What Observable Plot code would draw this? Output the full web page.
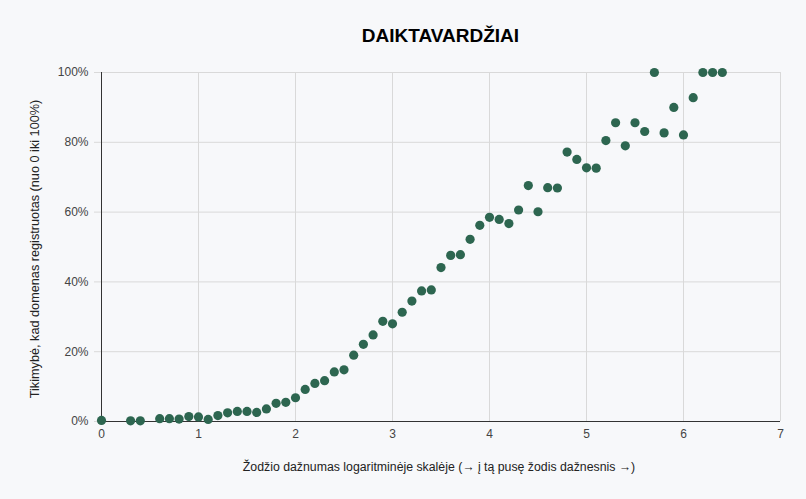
<!DOCTYPE html>
<html>
<head>
<meta charset="utf-8">
<script src="https://cdn.jsdelivr.net/npm/d3@7"></script>
<script src="https://cdn.jsdelivr.net/npm/@observablehq/plot@0.6"></script>
<style>
  html, body { margin: 0; padding: 0; background: #f7f8fa; }
  #wrap { position: relative; width: 806px; height: 499px; overflow: hidden; background: #f7f8fa; }
  #title { position: relative; height: 50px; }
  #title span { position: absolute; left: 101px; right: 26px; top: 25px; line-height: 22px; text-align: center;
    font-family: "Liberation Sans", Arial, sans-serif; font-weight: bold; font-size: 19px; color: #000; }
  #chart svg { display: block; }
</style>
</head>
<body>
<div id="wrap">
  <div id="title"><span>DAIKTAVARDŽIAI</span></div>
  <div id="chart"></div>
</div>
<script>
const titleText = "DAIKTAVARDŽIAI";
const xLabel = "Žodžio dažnumas logaritminėje skalėje (→ į tą pusę žodis dažnesnis →)";
const yLabel = "Tikimybė, kad domenas registruotas (nuo 0 iki 100%)";

const logFreq = [0, 0.3, 0.4, 0.6, 0.7, 0.8, 0.9, 1.0, 1.1, 1.2, 1.3, 1.4, 1.5, 1.6, 1.7, 1.8, 1.9,
  2.0, 2.1, 2.2, 2.3, 2.4, 2.5, 2.6, 2.7, 2.8, 2.9, 3.0, 3.1, 3.2, 3.3, 3.4, 3.5, 3.6, 3.7, 3.8, 3.9,
  4.0, 4.1, 4.2, 4.3, 4.4, 4.5, 4.6, 4.7, 4.8, 4.9, 5.0, 5.1, 5.2, 5.3, 5.4, 5.5, 5.6, 5.7, 5.8, 5.9,
  6.0, 6.1, 6.2, 6.3, 6.4];
const probability = [0.3, 0.2, 0.2, 0.8, 0.8, 0.7, 1.4, 1.3, 0.6, 1.7, 2.5, 2.9, 2.9, 2.6, 3.6, 5.2, 5.5,
  6.8, 9.2, 10.9, 11.7, 14.2, 14.8, 19.0, 22.1, 24.8, 28.7, 28.0, 31.3, 34.5, 37.4, 37.7, 44.1, 47.6, 47.8, 52.2, 56.2,
  58.5, 57.9, 56.7, 60.6, 67.6, 60.1, 67.0, 66.9, 77.2, 75.1, 72.7, 72.6, 80.5, 85.6, 79.0, 85.6, 83.1, 100, 82.7, 90.0,
  82.1, 92.8, 100, 100, 100];
const xTicks = [0, 1, 2, 3, 4, 5, 6, 7];
const yTicks = [0, 20, 40, 60, 80, 100];

const data = logFreq.map((x, i) => ({x, y: probability[i]}));
const gridColor = "#d9d9d9";
const font = "'Liberation Sans', Arial, sans-serif";

const chart = Plot.plot({
  width: 806,
  height: 449,
  marginTop: 22,
  marginLeft: 101,
  marginRight: 26,
  marginBottom: 78,
  style: {background: "#f7f8fa", fontFamily: font, fontSize: "12px", color: "#444"},
  x: {domain: [0, 7], ticks: xTicks},
  y: {domain: [0, 100], ticks: yTicks},
  marks: [
    Plot.gridX(xTicks, {stroke: gridColor, strokeOpacity: 1}),
    Plot.gridY(yTicks, {stroke: gridColor, strokeOpacity: 1}),
    Plot.axisY(yTicks, {tickSize: 7, tickPadding: 6, stroke: gridColor, strokeOpacity: 1, fill: "#444",
      fontSize: 12, tickFormat: d => d + "%", label: null}),
    Plot.axisX(xTicks, {tickSize: 0, tickPadding: 8, fill: "#444", fontSize: 12, label: null}),
    Plot.ruleY([0], {stroke: "#333", strokeWidth: 1}),
    Plot.ruleX([0], {stroke: "#333", strokeWidth: 1}),
    Plot.dot(data, {x: "x", y: "y", r: 4.6, fill: "#2d6650", stroke: "none"}),
    Plot.text([xLabel], {frameAnchor: "bottom", dy: 46, dx: -2, textAnchor: "middle", lineAnchor: "middle",
      fontSize: 12.3, fill: "#222"}),
    Plot.text([yLabel], {frameAnchor: "left", dx: -67, dy: 2, rotate: -90, textAnchor: "middle", lineAnchor: "middle",
      fontSize: 12.7, fill: "#222"})
  ]
});
document.getElementById("chart").appendChild(chart);
</script>
</body>
</html>
